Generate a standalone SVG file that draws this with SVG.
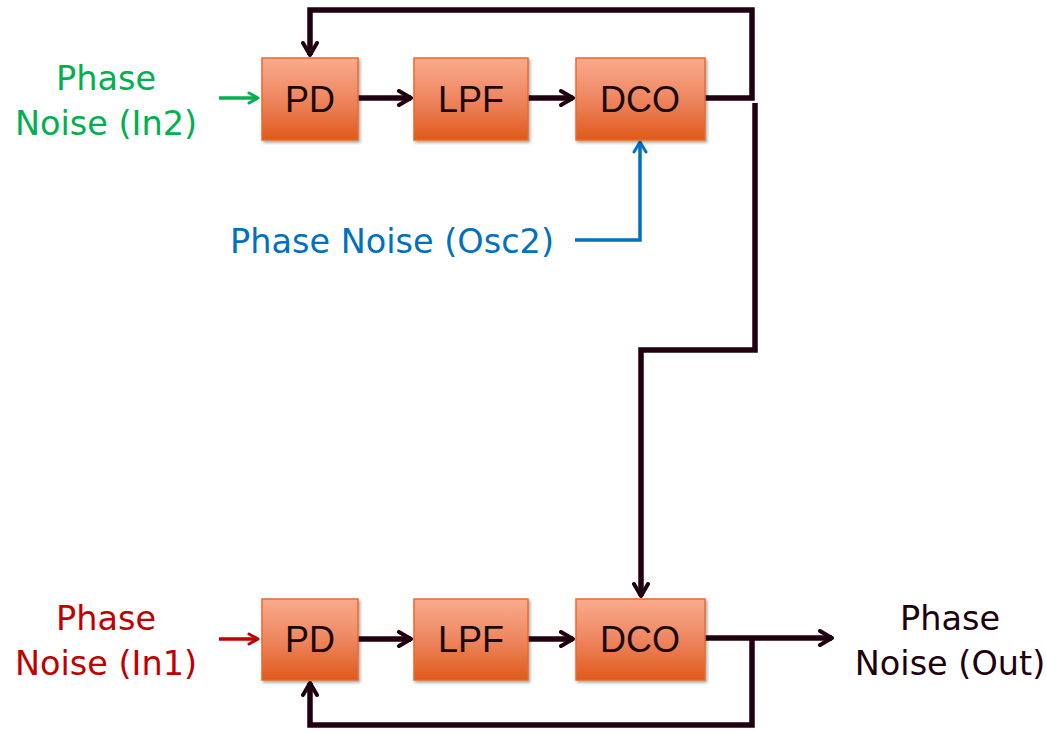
<svg xmlns="http://www.w3.org/2000/svg" width="1046" height="732" viewBox="0 0 1046 732">
<defs>
<linearGradient id="g" x1="0" y1="0" x2="0" y2="1">
<stop offset="0" stop-color="#FBAB8C"/>
<stop offset="0.5" stop-color="#EE8660"/>
<stop offset="1" stop-color="#E0591B"/>
</linearGradient>
<filter id="sh" x="-10%" y="-10%" width="130%" height="130%">
<feDropShadow dx="1.5" dy="2" stdDeviation="1.5" flood-color="#000" flood-opacity="0.35"/>
</filter>
<marker id="ad" viewBox="0 0 18 18" refX="15" refY="9" markerWidth="18" markerHeight="18" markerUnits="userSpaceOnUse" orient="auto">
<path d="M3,2 L15,9 L3,16" fill="none" stroke="#200010" stroke-width="4" stroke-linecap="round" stroke-linejoin="round"/>
</marker>
<marker id="ag" viewBox="0 0 14 14" refX="12" refY="7" markerWidth="14" markerHeight="14" markerUnits="userSpaceOnUse" orient="auto">
<path d="M3,2 L12,7 L3,12" fill="none" stroke="#00B050" stroke-width="3" stroke-linecap="round" stroke-linejoin="round"/>
</marker>
<marker id="ar" viewBox="0 0 14 14" refX="12" refY="7" markerWidth="14" markerHeight="14" markerUnits="userSpaceOnUse" orient="auto">
<path d="M3,2 L12,7 L3,12" fill="none" stroke="#C00000" stroke-width="3" stroke-linecap="round" stroke-linejoin="round"/>
</marker>
<marker id="ab" viewBox="0 0 16 16" refX="13" refY="8" markerWidth="16" markerHeight="16" markerUnits="userSpaceOnUse" orient="auto">
<path d="M3,2 L13,8 L3,14" fill="none" stroke="#0070C0" stroke-width="3" stroke-linecap="round" stroke-linejoin="round"/>
</marker>
</defs>
<style>
.box{fill:url(#g);stroke:#E46C2C;stroke-width:1.5;filter:url(#sh)}
.bt{font-family:"Liberation Sans",Arial,sans-serif;font-size:36px;fill:#1a0a0a;text-anchor:middle}
.lbl{font-family:"DejaVu Sans",Verdana,sans-serif;font-size:33.5px;text-anchor:middle}
.w{fill:none;stroke:#200010;stroke-width:5.5;stroke-linejoin:miter}
</style>
<rect width="1046" height="732" fill="#ffffff"/>

<g id="connectors">
<path class="w" d="M705,98 H752 V10 H310 V55" marker-end="url(#ad)"/>
<path class="w" d="M358,98 H411" marker-end="url(#ad)"/>
<path class="w" d="M528,98 H573" marker-end="url(#ad)"/>
<path class="w" d="M755,103 V350 H641 V596" marker-end="url(#ad)"/>
<path class="w" d="M358,639 H411" marker-end="url(#ad)"/>
<path class="w" d="M528,639 H573" marker-end="url(#ad)"/>
<path class="w" d="M705,638 H832" marker-end="url(#ad)"/>
<path class="w" d="M752,638 V725 H310 V683" marker-end="url(#ad)"/>
<path d="M219,98 H258" fill="none" stroke="#00B050" stroke-width="3.5" marker-end="url(#ag)"/>
<path d="M219,639 H258" fill="none" stroke="#C00000" stroke-width="3.5" marker-end="url(#ar)"/>
<path d="M575,240 H640 V142" fill="none" stroke="#0070C0" stroke-width="3.5" marker-end="url(#ab)"/>
</g>

<g id="pd1"><rect class="box" x="262" y="58" width="96" height="82"/><text class="bt" x="310" y="112">PD</text></g>
<g id="lpf1"><rect class="box" x="414" y="58" width="114" height="82"/><text class="bt" x="471" y="112">LPF</text></g>
<g id="dco1"><rect class="box" x="576" y="58" width="129" height="82"/><text class="bt" x="640" y="112">DCO</text></g>

<g id="pd2"><rect class="box" x="262" y="599" width="96" height="81"/><text class="bt" x="310" y="652">PD</text></g>
<g id="lpf2"><rect class="box" x="414" y="599" width="114" height="81"/><text class="bt" x="471" y="652">LPF</text></g>
<g id="dco2"><rect class="box" x="576" y="599" width="129" height="81"/><text class="bt" x="640" y="652">DCO</text></g>

<g id="in2"><text class="lbl" fill="#00B050"><tspan x="106" y="90">Phase</tspan><tspan x="106" y="135">Noise (In2)</tspan></text></g>
<g id="osc2"><text class="lbl" fill="#0070C0" x="392" y="253">Phase Noise (Osc2)</text></g>
<g id="in1"><text class="lbl" fill="#C00000"><tspan x="106" y="630">Phase</tspan><tspan x="106" y="675">Noise (In1)</tspan></text></g>
<g id="out"><text class="lbl" fill="#200010"><tspan x="950" y="630">Phase</tspan><tspan x="950" y="675">Noise (Out)</tspan></text></g>
</svg>
